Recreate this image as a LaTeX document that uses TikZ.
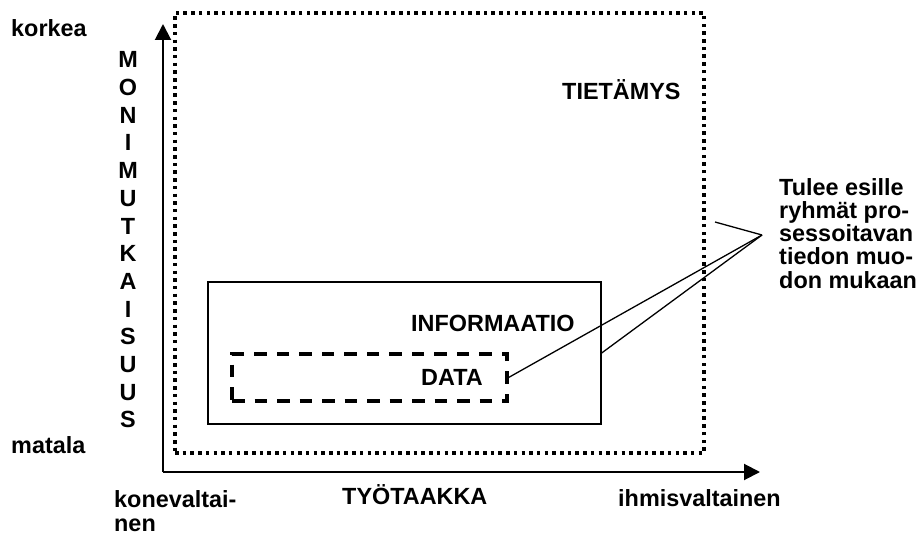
\documentclass[tikz,border=0pt]{standalone}
\usepackage{fontspec}
\setmainfont{Liberation Sans}
\usetikzlibrary{arrows.meta}

\begin{document}
\begin{tikzpicture}[x=1pt,y=-1pt,
    lbl/.style={font=\bfseries\fontsize{23.4}{23.2}\selectfont, inner sep=0pt},
    axis/.style={line width=2pt, -{Triangle[length=16pt,width=16pt]}},
    knowbox/.style={draw, line width=3.5pt, dash pattern=on 3.5pt off 4.2pt, inner sep=0pt},
    infobox/.style={draw, line width=1.3pt, inner sep=0pt},
    databox/.style={draw, line width=3.2pt, dash pattern=on 12.5pt off 10pt, inner sep=0pt},
    callout/.style={line width=1.3pt}]
  \useasboundingbox (0,0) rectangle (923,537);

  % frames for the three levels
  \node[knowbox, minimum width=529pt, minimum height=440pt] (tieto) at (439.5,233) {};
  \node[infobox, minimum width=393pt, minimum height=142pt] (info) at (404.5,353) {};
  \node[databox, minimum width=275pt, minimum height=47pt] (data) at (369.5,377.5) {};

  % axes
  \coordinate (origo) at (163,472);
  \coordinate (ytop) at (163,24);
  \coordinate (xend) at (760,472);
  \draw[axis] (origo.center) -- (ytop);
  \draw[axis] (origo.center) -- (xend);

  % level labels
  \node[lbl, anchor=base west] (ltieto) at (562,100) {TIETÄMYS};
  \node[lbl, anchor=base west] (linfo) at (411,331) {INFORMAATIO};
  \node[lbl, anchor=base west] (ldata) at (421,385) {DATA};

  % axis labels
  \node[lbl, anchor=base west] (korkea) at (11,37) {korkea};
  \node[lbl, anchor=base west] (matala) at (11,453) {matala};
  \node[lbl, align=center, font=\bfseries\fontsize{23.4}{27.7}\selectfont] (ylbl) at (128,240)
    {M\\O\\N\\I\\M\\U\\T\\K\\A\\I\\S\\U\\U\\S};
  % base anchor of a multi-line node sits on its last line
  \node[lbl, anchor=base west, align=left] (kone) at (114,531) {konevaltai-\\nen};
  \node[lbl, anchor=base west] (tyo) at (342,504) {TYÖTAAKKA};
  \node[lbl, anchor=base west] (ihminen) at (618,506) {ihmisvaltainen};

  % callout
  \node[lbl, anchor=base west, align=left] (note) at (779,288)
    {Tulee esille\\ryhmät pro-\\sessoitavan\\tiedon muo-\\don mukaan};
  \coordinate (karki) at (762,235);
  \coordinate (tietoref) at (715,222);
  \draw[callout] (tietoref) -- (karki);
  \draw[callout] (info.east) -- (karki);
  \draw[callout] (data.east) -- (karki);
\end{tikzpicture}
\end{document}
